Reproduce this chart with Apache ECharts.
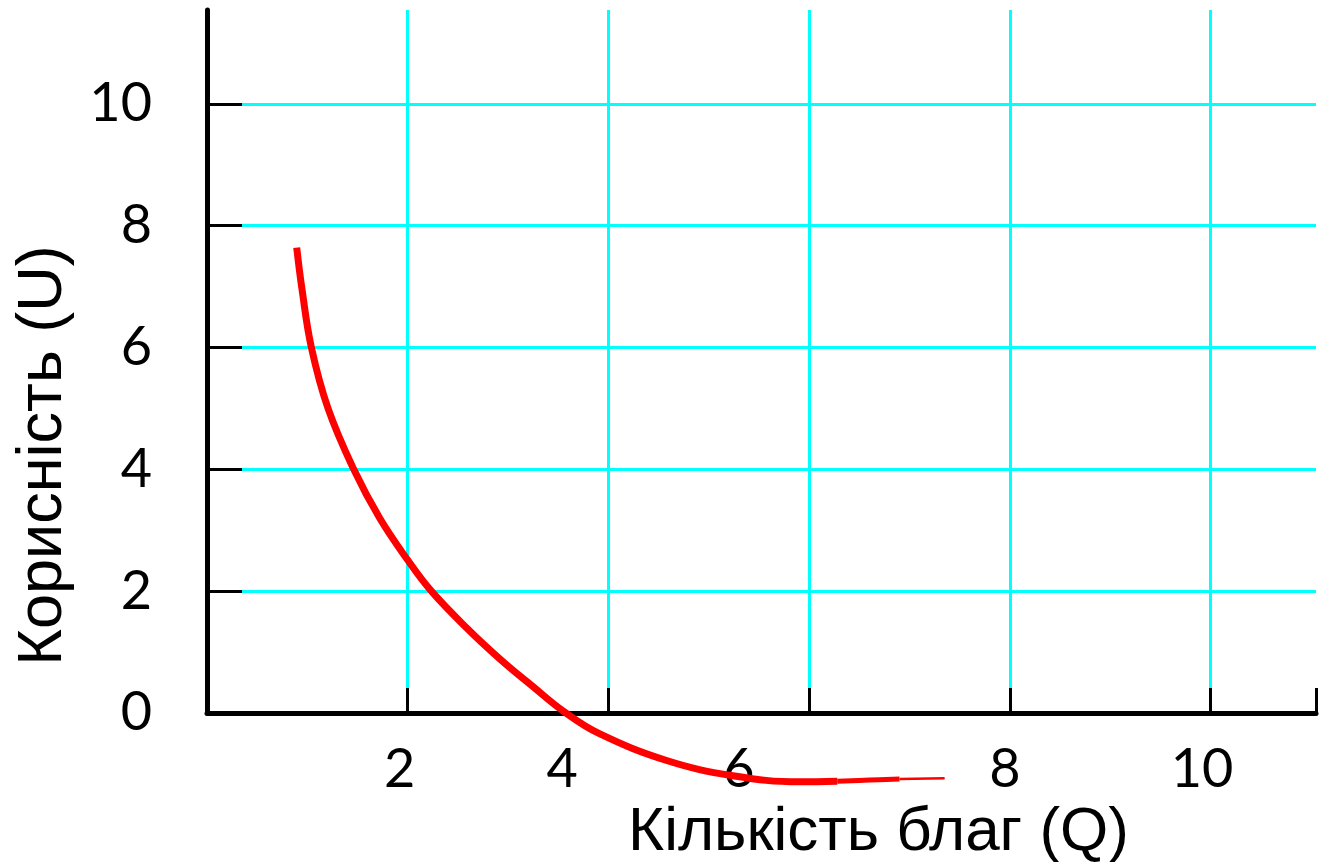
<!DOCTYPE html>
<html>
<head>
<meta charset="utf-8">
<script src="https://cdn.jsdelivr.net/npm/echarts@6/dist/echarts.min.js"></script>
<style>
html,body{margin:0;padding:0;background:#fff;overflow:hidden;}
#chart{width:1319px;height:862px;}
</style>
</head>
<body>
<div id="chart"></div>
<script>
// ---- data ----
const curveQ = [0.894, 0.947, 1.04, 1.206, 1.462, 1.72, 2.0, 2.236, 2.585, 2.917, 3.25, 3.55, 3.91, 4.58, 5.24, 5.905, 6.28];
const curveU = [7.64, 6.95, 6.0, 5.0, 4.0, 3.2, 2.51, 2.0, 1.40, 0.89, 0.43, 0.03, -0.34, -0.78, -1.03, -1.13, -1.12];
const tailQ = [6.28, 6.6, 6.9];
const tailU = [-1.12, -1.10, -1.085];
const tipQ = [6.9, 7.35];
const tipU = [-1.085, -1.07];
const xLabelPos = [1.92, 3.54, 5.3, 7.95, 9.915];
const xLabelText = ['2', '4', '6', '8', '10'];
const xName = 'Кількість благ (Q)';
const yName = 'Корисність (U)';

const zip = (a, b) => a.map((v, i) => [v, b[i]]);

const chart = echarts.init(document.getElementById('chart'), null, {renderer: 'canvas'});
chart.setOption({
  animation: false,
  backgroundColor: '#ffffff',
  grid: {left: 207, right: 3, top: 10, bottom: 149, containLabel: false, outerBoundsMode: 'none'},
  xAxis: {
    type: 'value', min: 0, max: 11.05, interval: 2,
    name: xName, nameLocation: 'middle', nameGap: 87,
    nameTextStyle: {fontFamily: 'Liberation Sans', fontSize: 62, color: '#000', padding: [0, 0, 0, 234]},
    axisLine: {show: true, onZero: false, lineStyle: {color: '#000', width: 5}},
    axisTick: {show: true, inside: true, length: 25, lineStyle: {color: '#000', width: 3}},
    axisLabel: {
      show: true, margin: 30, fontFamily: 'Lato', fontSize: 54, color: '#000',
      customValues: xLabelPos,
      formatter: v => { const i = xLabelPos.indexOf(v); return i >= 0 ? xLabelText[i] : ''; }
    },
    splitLine: {show: true, showMinLine: false, showMaxLine: false, lineStyle: {color: '#00FFFF', width: 3}}
  },
  yAxis: {
    type: 'value', min: 0, max: 11.54, interval: 2,
    name: yName, nameLocation: 'middle', nameGap: 132,
    nameTextStyle: {fontFamily: 'Liberation Sans', fontSize: 63, color: '#000', padding: [0, 188, 0, 0]},
    axisLine: {show: true, onZero: false, lineStyle: {color: '#000', width: 5}},
    axisTick: {show: true, inside: true, length: 35, lineStyle: {color: '#000', width: 3}},
    axisLabel: {show: true, margin: 55, fontFamily: 'Lato', fontSize: 54, color: '#000', showMaxLabel: false, showMinLabel: true},
    splitLine: {show: true, showMinLine: false, showMaxLine: false, lineStyle: {color: '#00FFFF', width: 3}}
  },
  series: [
    {type: 'line', data: zip(curveQ, curveU), smooth: 0.4, showSymbol: false, clip: false,
     lineStyle: {color: '#FF0000', width: 7, cap: 'butt', join: 'round'}},
    {type: 'line', data: zip(tailQ, tailU), smooth: 0.4, showSymbol: false, clip: false,
     lineStyle: {color: '#FF0000', width: 5, cap: 'butt'}},
    {type: 'line', data: zip(tipQ, tipU), smooth: 0.4, showSymbol: false, clip: false,
     lineStyle: {color: '#FF0000', width: 2.5, cap: 'butt'}}
  ]
});
</script>
</body>
</html>
